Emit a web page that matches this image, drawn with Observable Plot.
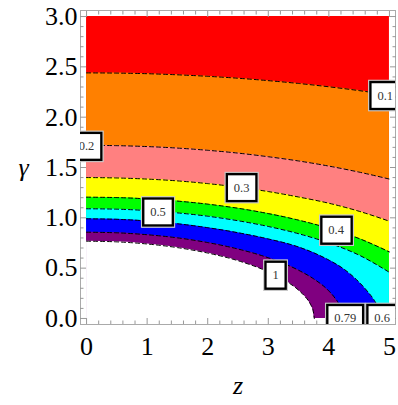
<!DOCTYPE html>
<html><head><meta charset="utf-8">
<script src="https://cdn.jsdelivr.net/npm/d3@7"></script>
<script src="https://cdn.jsdelivr.net/npm/@observablehq/plot@0.6"></script>
<style>body{margin:0;background:#fff;} svg{display:block}</style>
</head><body><div id="chart"></div>
<script>
// Contour levels and band colours (top band = above the 0.1 contour)
const levels = ["0.1","0.2","0.3","0.4","0.5","0.6","0.79","1"];
const bandColors = ["#ff0000","#ff8000","#ff8080","#ffff00","#00ff00","#00ffff","#0000ff","#800080","#ffffff"];
const gMax = 3;

// contour positions: γ at each z
const zGrid = [0,0.5,1,1.5,2,2.5,3,3.5,4,4.5,5];
const g01 = [2.44,2.438,2.432,2.421,2.406,2.387,2.363,2.335,2.302,2.264,2.22];
const g02 = [1.72,1.717,1.708,1.693,1.671,1.643,1.607,1.565,1.514,1.454,1.385];
const g03 = [1.40,1.396,1.385,1.367,1.340,1.305,1.261,1.207,1.145,1.065,0.966];
const g04 = [1.205,1.201,1.188,1.166,1.136,1.095,1.042,0.977,0.896,0.794,0.661];
const g05 = [1.09,1.086,1.072,1.049,1.016,0.971,0.914,0.842,0.750,0.629,0.458];
const z06 = [0,0.5,1,1.5,2,2.5,3,3.5,4,4.25,4.5,4.65,4.75,4.82,4.87];
const g06 = [0.99,0.985,0.969,0.941,0.902,0.852,0.79,0.71,0.58,0.49,0.36,0.26,0.18,0.10,0];
const z079 = [0,0.5,1,1.5,2,2.5,3,3.5,3.75,4,4.1,4.17,4.22];
const g079 = [0.857,0.851,0.832,0.801,0.754,0.690,0.603,0.479,0.393,0.273,0.203,0.131,0];
const z1 = [0,0.5,1,1.5,2,2.5,3,3.25,3.5,3.6,3.7,3.74,3.76];
const g1 = [0.768,0.761,0.740,0.704,0.650,0.574,0.463,0.386,0.281,0.222,0.137,0.079,0];

// contour labels
const labelText = ["0.1","0.2","0.3","0.4","0.5","0.6","0.79","1"];
const labelZ = [4.93, 0, 2.56, 4.12, 1.18, 4.88, 4.27, 3.12];
const labelG = [2.215, 1.71, 1.30, 0.877, 1.058, 0.0, 0.0, 0.43];

// ticks
const xMajor = [0,1,2,3,4,5];
const xMinor = [0.2,0.4,0.6,0.8,1.2,1.4,1.6,1.8,2.2,2.4,2.6,2.8,3.2,3.4,3.6,3.8,4.2,4.4,4.6,4.8];
const yMajor = [0,0.5,1,1.5,2,2.5,3];
const yMinor = [0.1,0.2,0.3,0.4,0.6,0.7,0.8,0.9,1.1,1.2,1.3,1.4,1.6,1.7,1.8,1.9,2.1,2.2,2.3,2.4,2.6,2.7,2.8,2.9];

const contourZ = [zGrid, zGrid, zGrid, zGrid, zGrid, z06, z079, z1];
const contourG = [g01, g02, g03, g04, g05, g06, g079, g1];
const contours = levels.map((lv, i) => contourZ[i].map((z, j) => ({z, g: contourG[i][j]})));
const topBand = zGrid.map(z => ({z, g: gMax}));
const labels = labelText.map((t, i) => ({t, z: labelZ[i], g: labelG[i]}));

const serif = "Liberation Serif";
const tickColor = "#999";

const svg = Plot.plot({
  width: 398, height: 405,
  marginLeft: 80, marginRight: 3, marginTop: 10, marginBottom: 81,
  x: {domain: [-0.1, 5.1]},
  y: {domain: [-0.06, 3.06]},
  style: {background: "white", fontFamily: serif},
  marks: [
    Plot.areaY(topBand, {x: "z", y1: 0, y2: "g", fill: bandColors[0]}),
    ...contours.map((c, i) => Plot.areaY(c, {x: "z", y1: 0, y2: "g", fill: bandColors[i + 1], curve: "monotone-x"})),
    ...contours.map(c => Plot.line(c, {x: "z", y: "g", stroke: "black", strokeWidth: 1, strokeDasharray: "4,3", curve: "monotone-x"})),
    Plot.frame({stroke: "#aaa"}),
    Plot.axisX(xMajor, {anchor: "bottom", tickSize: -6, tickFormat: () => "", stroke: tickColor, label: null}),
    Plot.axisX(xMinor, {anchor: "bottom", tickSize: -3.5, tickFormat: () => "", stroke: tickColor, label: null}),
    Plot.axisX(xMajor, {anchor: "top", tickSize: -6, tickFormat: () => "", stroke: tickColor, label: null}),
    Plot.axisX(xMinor, {anchor: "top", tickSize: -3.5, tickFormat: () => "", stroke: tickColor, label: null}),
    Plot.axisY(yMajor, {anchor: "left", tickSize: -6, tickFormat: () => "", stroke: tickColor, label: null}),
    Plot.axisY(yMinor, {anchor: "left", tickSize: -3.5, tickFormat: () => "", stroke: tickColor, label: null}),
    Plot.axisY(yMajor, {anchor: "right", tickSize: -6, tickFormat: () => "", stroke: tickColor, label: null}),
    Plot.axisY(yMinor, {anchor: "right", tickSize: -3.5, tickFormat: () => "", stroke: tickColor, label: null}),
    Plot.axisX(xMajor, {anchor: "bottom", tickSize: 0, tickPadding: 12, fontSize: 26, fontFamily: serif, fill: "black", label: null}),
    Plot.axisY(yMajor, {anchor: "left", tickSize: 0, tickPadding: 3, tickFormat: d3.format(".1f"), fontSize: 26, fontFamily: serif, fill: "black", label: null}),
    Plot.text(labels, {x: "z", y: "g", text: "t", fontSize: 12.5, fontFamily: serif, fill: "#333", clip: true}),
    Plot.text(["z"], {text: d => d, frameAnchor: "bottom", dy: 69, fontSize: 26, fontStyle: "italic", fontFamily: serif, fill: "black"}),
    Plot.text(["γ"], {text: d => d, frameAnchor: "left", dx: -62, dy: 0, fontSize: 26, fontStyle: "italic", fontFamily: serif, fill: "black"})
  ]
});
document.getElementById("chart").append(svg);

// boxes behind the contour labels, sized from the rendered text
const NS = "http://www.w3.org/2000/svg";
let lg = null;
svg.querySelectorAll("g").forEach(g => {
  const ts = Array.from(g.children).filter(e => e.tagName.toLowerCase() === "text");
  if (ts.length === labelText.length && ts.every((t, i) => t.textContent === labelText[i])) lg = g;
});
if (lg) {
  Array.from(lg.querySelectorAll("text")).forEach(t => {
    const b = t.getBBox();
    const tr = t.getAttribute("transform");
    const mk = (px, py, stroke, sw) => {
      const r = document.createElementNS(NS, "rect");
      r.setAttribute("x", b.x - px);
      r.setAttribute("y", b.y - py);
      r.setAttribute("width", b.width + 2 * px);
      r.setAttribute("height", b.height + 2 * py);
      r.setAttribute("fill", "white");
      r.setAttribute("stroke", stroke);
      r.setAttribute("stroke-width", sw);
      if (tr) r.setAttribute("transform", tr);
      return r;
    };
    lg.insertBefore(mk(8.8, 8.3, "#c8c8c8", 1), t);
    lg.insertBefore(mk(7, 6.5, "black", 2.4), t);
  });
}
</script>
</body></html>
